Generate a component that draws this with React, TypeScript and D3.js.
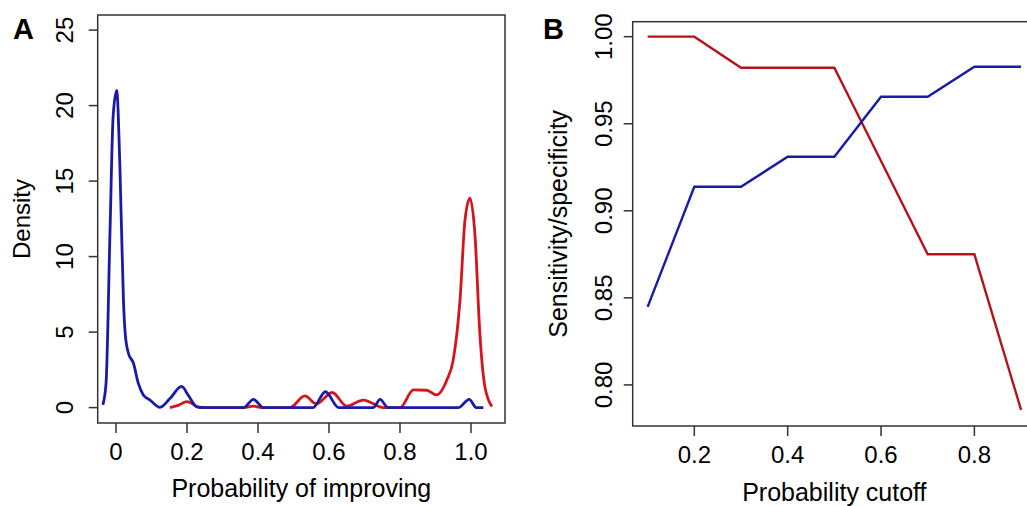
import React from "react";
import * as d3 from "d3";

// panel A: density of predicted probability of improving (x, density)
const blueDensity: [number, number][] = [
  [-0.037, 0.18], [-0.028, 1.6], [-0.017, 11.5], [-0.008, 19.3], [0.002, 21.0],
  [0.011, 16.0], [0.021, 7.1], [0.026, 4.9], [0.035, 3.6], [0.049, 2.95],
  [0.063, 1.6], [0.077, 0.84], [0.096, 0.5], [0.124, 0.02], [0.152, 0.6],
  [0.185, 1.4], [0.204, 0.8], [0.228, 0.05], [0.25, 0], [0.36, 0],
  [0.387, 0.55], [0.415, 0], [0.555, 0], [0.59, 1.05], [0.627, 0],
  [0.725, 0], [0.744, 0.55], [0.766, 0], [0.965, 0], [0.995, 0.55],
  [1.015, 0], [1.035, 0],
];
const redDensity: [number, number][] = [
  [0.152, 0], [0.175, 0.15], [0.2, 0.4], [0.237, 0], [0.36, 0],
  [0.387, 0.1], [0.41, 0], [0.49, 0], [0.532, 0.77], [0.565, 0.25],
  [0.609, 1.0], [0.65, 0.1], [0.697, 0.5], [0.753, 0], [0.8, 0],
  [0.838, 1.17], [0.875, 1.15], [0.903, 0.84], [0.932, 1.83], [0.95, 3.16],
  [0.969, 7.1], [0.983, 12.4], [0.997, 13.87], [1.011, 11.5], [1.025, 4.9],
  [1.039, 1.4], [1.059, 0.07],
];
const densityTicksX = [0, 0.2, 0.4, 0.6, 0.8, 1.0];
const densityTickLabelsX = ["0", "0.2", "0.4", "0.6", "0.8", "1.0"];
const densityTicksY = [0, 5, 10, 15, 20, 25];

// panel B: sensitivity / specificity by cutoff
const cutoffs = [0.1, 0.2, 0.3, 0.4, 0.5, 0.6, 0.7, 0.8, 0.9];
const redSens = [1, 1, 55 / 56, 55 / 56, 55 / 56, 52 / 56, 49 / 56, 49 / 56, 44 / 56];
const blueSpec = [49 / 58, 53 / 58, 53 / 58, 54 / 58, 54 / 58, 56 / 58, 56 / 58, 57 / 58, 57 / 58];
const cutoffTicks = [0.2, 0.4, 0.6, 0.8];
const sensTicks = [0.8, 0.85, 0.9, 0.95, 1.0];

const FONT = "Liberation Sans, Arial, Helvetica, sans-serif";
const BLUE = "#1a1aa8";
const RED_A = "#d6141c";
const RED_B = "#b3141c";

const App = () => {
  // panel A frame
  const aL = 97.7, aR = 505, aT = 15, aB = 423;
  const xA = d3.scaleLinear().domain([-0.0515, 1.0958]).range([aL, aR]);
  const yA = d3.scaleLinear().domain([-1.02, 26.0]).range([aB, aT]);
  const lineA = d3
    .line<[number, number]>()
    .x((d) => xA(d[0]))
    .y((d) => yA(d[1]))
    .curve(d3.curveMonotoneX);

  // panel B frame
  const bL = 632.7, bR = 1036, bT = 21.7, bB = 426;
  const xB = d3.scaleLinear().domain([0.068, 0.932]).range([bL, bR]);
  const yB = d3.scaleLinear().domain([0.7764, 1.0086]).range([bB, bT]);
  const lineB = d3
    .line<number>()
    .x((_, i) => xB(cutoffs[i]))
    .y((d) => yB(d));

  const tickFs = 24;
  return (
    <svg width={1027} height={506} style={{ position: "absolute", left: 0, top: 0 }} fontFamily={FONT}>
      <rect width={1027} height={506} fill="#fff" />
      {/* Panel A */}
      <text x={13} y={39} fontSize={29} fontWeight="bold">A</text>
      <rect x={aL} y={aT} width={aR - aL} height={aB - aT} fill="none" stroke="#333" strokeWidth={1.5} />
      {densityTicksY.map((t) => (
        <g key={"ay" + t}>
          <line x1={aL - 9} x2={aL} y1={yA(t)} y2={yA(t)} stroke="#333" strokeWidth={1.5} />
          <text transform={`translate(73,${yA(t)}) rotate(-90)`} textAnchor="middle" fontSize={tickFs}>{t}</text>
        </g>
      ))}
      {densityTicksX.map((t, i) => (
        <g key={"ax" + t}>
          <line x1={xA(t)} x2={xA(t)} y1={aB} y2={aB + 10} stroke="#333" strokeWidth={1.5} />
          <text x={xA(t)} y={460} textAnchor="middle" fontSize={tickFs}>{densityTickLabelsX[i]}</text>
        </g>
      ))}
      <text x={(aL + aR) / 2} y={497} textAnchor="middle" fontSize={25}>Probability of improving</text>
      <text transform={`translate(30,${(aT + aB) / 2}) rotate(-90)`} textAnchor="middle" fontSize={24}>Density</text>
      <path d={lineA(redDensity) ?? ""} fill="none" stroke={RED_A} strokeWidth={2.8} />
      <path d={lineA(blueDensity) ?? ""} fill="none" stroke={BLUE} strokeWidth={2.8} />

      {/* Panel B */}
      <text x={543} y={39} fontSize={29} fontWeight="bold">B</text>
      <rect x={bL} y={bT} width={bR - bL} height={bB - bT} fill="none" stroke="#333" strokeWidth={1.5} />
      {sensTicks.map((t) => (
        <g key={"by" + t}>
          <line x1={bL - 9} x2={bL} y1={yB(t)} y2={yB(t)} stroke="#333" strokeWidth={1.5} />
          <text transform={`translate(612,${yB(t)}) rotate(-90)`} textAnchor="middle" fontSize={tickFs}>{t.toFixed(2)}</text>
        </g>
      ))}
      {cutoffTicks.map((t) => (
        <g key={"bx" + t}>
          <line x1={xB(t)} x2={xB(t)} y1={bB} y2={bB + 10} stroke="#333" strokeWidth={1.5} />
          <text x={xB(t)} y={463} textAnchor="middle" fontSize={tickFs}>{t.toFixed(1)}</text>
        </g>
      ))}
      <text x={(bL + bR) / 2} y={501} textAnchor="middle" fontSize={25}>Probability cutoff</text>
      <text transform={`translate(567,${(bT + bB) / 2}) rotate(-90)`} textAnchor="middle" fontSize={25}>Sensitivity/specificity</text>
      <path d={lineB(redSens) ?? ""} fill="none" stroke={RED_B} strokeWidth={2.4} />
      <path d={lineB(blueSpec) ?? ""} fill="none" stroke={BLUE} strokeWidth={2.4} />
    </svg>
  );
};

export default App;
